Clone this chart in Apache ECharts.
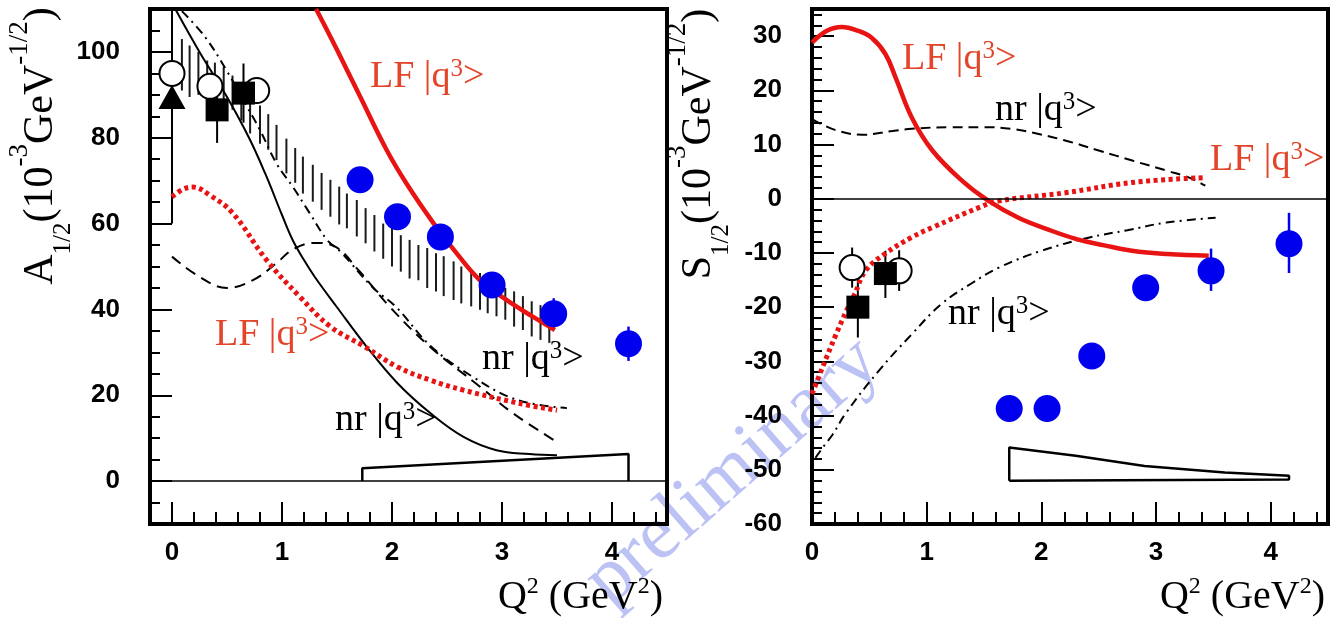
<!DOCTYPE html>
<html>
<head>
<meta charset="utf-8">
<script src="https://cdn.jsdelivr.net/npm/echarts@6/dist/echarts.min.js"></script>
<style>
  html, body { margin: 0; padding: 0; background: #fff; }
  #main { width: 1331px; height: 618px; }
</style>
</head>
<body>
<div id="main"></div>
<script>
// ---------- left panel: A1/2 ----------
var leftHatch = [
  [0.09, 91, 103], [0.16, 89.5, 101.5], [0.24, 90, 100], [0.32, 88.7, 98], [0.39, 88.5, 97.5],
  [0.47, 88.5, 96.5], [0.55, 86.5, 94.5], [0.63, 84, 93], [0.71, 81, 90.5], [0.8, 78.6, 87.5],
  [0.875, 77.2, 85.5], [0.95, 74.8, 83], [1.04, 71.7, 79.8], [1.12, 69.5, 77.6], [1.19, 67, 75.6],
  [1.28, 65.1, 73.7], [1.36, 63.2, 71.8], [1.44, 61.6, 70.2], [1.52, 59.8, 68.6], [1.59, 58.9, 67],
  [1.68, 57, 65.5], [1.76, 55.4, 63.6], [1.84, 53.5, 62], [1.92, 51.8, 60], [2.0, 50, 59],
  [2.08, 48.8, 57.3], [2.16, 47.2, 56.2], [2.24, 46.8, 55], [2.32, 45, 54.3], [2.4, 44.2, 53.1],
  [2.47, 43.1, 52.4], [2.56, 42.2, 51.2], [2.63, 41.4, 50], [2.72, 40.7, 48.9], [2.8, 39.9, 48.5],
  [2.87, 39.1, 47.4], [2.95, 38.4, 46], [3.03, 37.6, 45], [3.11, 36, 44.2], [3.19, 35.2, 43.1],
  [3.27, 33.7, 41.9], [3.35, 32.9, 41], [3.43, 32.2, 40]
];
var leftNrSolid = [[0.03, 110], [0.25, 100], [0.5, 89.5], [0.7, 80], [0.85, 71.5], [1.0, 62], [1.1, 56],
  [1.2, 51.5], [1.3, 47.5], [1.5, 40.5], [1.77, 31.3], [2.05, 22.8], [2.35, 15.8], [2.65, 10.3], [2.95, 7.2], [3.25, 6.3], [3.5, 6]];
var leftNrDashDot = [[0.09, 109.5], [0.3, 103.5], [0.5, 95.5], [0.68, 87.3], [0.8, 81.8], [0.95, 74], [1.1, 68.5],
  [1.25, 62.5], [1.41, 56.2], [1.53, 53.5], [1.83, 45], [2.04, 40.5], [2.35, 31.5], [2.74, 24.2], [3.14, 18.9], [3.59, 17]];
var leftNrDash = [[0, 52.3], [0.25, 47.6], [0.5, 45], [0.74, 46.9], [0.95, 50.8], [1.1, 54], [1.3, 55.5], [1.47, 54.8],
  [1.7, 49], [1.98, 40.6], [2.35, 31.2], [2.8, 22], [3.1, 15.8], [3.5, 9.1]];
var leftLFSolid = [[1.31, 110], [1.5, 100.5], [1.71, 89.6], [1.95, 77.2], [2.13, 69.4], [2.38, 60], [2.59, 53],
  [2.8, 46.8], [3.04, 42.2], [3.28, 38.3], [3.48, 35.2]];
var leftLFDotted = [[0, 66.2], [0.1, 68], [0.19, 68.5], [0.35, 66.5], [0.55, 62.5], [0.86, 51.5], [1.16, 43], [1.44, 36],
  [1.74, 31.5], [2.05, 26.6], [2.35, 23.5], [2.65, 21.2], [3.14, 18.2], [3.5, 16.5]];
var leftOpen = [[0, 95], [0.345, 92], [0.77, 91]];
var leftTri = [[0, 89.5]];
var leftTriErr = [[0, 60, 119]];
var leftSquare = [[0.41, 86.5], [0.65, 90.4]];
var leftSquareErr = [[0.41, 78.8, 94.2], [0.65, 83.5, 97.3]];
var leftBlue = [[1.71, 70.2], [2.05, 61.6], [2.44, 56.9], [2.91, 45.7], [3.47, 39], [4.15, 32]];
var leftBlueErr = [[3.47, 35.4, 42.6], [4.15, 28, 36]];
var leftSys = [[1.73, 0], [1.73, 3], [4.15, 6.3], [4.15, 0]];

// ---------- right panel: S1/2 ----------
var rightLFSolid = [[0, 28.8], [0.13, 31], [0.26, 31.7], [0.4, 31], [0.52, 29.7], [0.64, 26.7], [0.73, 22.3], [0.87, 15],
  [1.05, 8.9], [1.31, 3.3], [1.54, -0.4], [1.8, -3.5], [2.05, -5.6], [2.3, -7.4], [2.55, -8.6], [2.79, -9.6], [3.1, -10.2], [3.46, -10.5]];
var rightLFDotted = [[0, -36], [0.09, -31.2], [0.21, -25], [0.3, -20.7], [0.37, -17.7], [0.47, -13.2], [0.64, -10.1],
  [0.87, -7.1], [1.05, -5.3], [1.46, -1.6], [1.63, -0.4], [2.21, 1.1], [2.79, 3], [3.43, 3.9]];
var rightNrDash = [[0, 14.7], [0.2, 12.7], [0.44, 11.8], [0.7, 12.5], [0.87, 12.9], [1.2, 13.2], [1.5, 13.2], [1.74, 12.9],
  [1.92, 12.2], [2.2, 10.8], [2.5, 8.9], [2.8, 7], [3.09, 5.2], [3.3, 3.8], [3.43, 2.4]];
var rightNrDashDot = [[0.03, -47.8], [0.09, -46], [0.18, -43.5], [0.29, -39.7], [0.58, -31.8], [0.87, -25], [1.13, -19.4],
  [1.4, -15.5], [1.63, -12.7], [2.0, -9.6], [2.41, -7.2], [2.75, -5.8], [3.09, -4.4], [3.52, -3.5]];
var rightOpen = [[0.35, -12.7], [0.76, -13.3]];
var rightOpenErr = [[0.35, -16.4, -9], [0.76, -17, -9.5]];
var rightSquare = [[0.4, -20], [0.64, -13.8]];
var rightSquareErr = [[0.4, -25.6, -14.5], [0.64, -18.3, -9.6]];
var rightBlue = [[1.72, -38.7], [2.05, -38.7], [2.44, -29], [2.91, -16.4], [3.48, -13.3], [4.16, -8.3]];
var rightBlueErr = [[3.48, -17, -9.2], [4.16, -13.7, -2.6]];
var rightSys = [[1.72, -52], [1.72, -45.9], [2.3, -47.4], [2.9, -49.3], [3.6, -50.5], [4.16, -51.1], [4.16, -51.8], [1.72, -52]];

// ---------- ticks ----------
var xMajor = [0, 1, 2, 3, 4];
var xMinor = [0.2, 0.4, 0.6, 0.8, 1.2, 1.4, 1.6, 1.8, 2.2, 2.4, 2.6, 2.8, 3.2, 3.4, 3.6, 3.8, 4.2, 4.4];
var leftYMajor = [0, 20, 40, 60, 80, 100];
var leftYMinor = [-5, 5, 10, 15, 25, 30, 35, 45, 50, 55, 65, 70, 75, 85, 90, 95, 105];
var rightYMajor = [-60, -50, -40, -30, -20, -10, 0, 10, 20, 30];
var rightYMinor = [-58, -56, -54, -52, -48, -46, -44, -42, -38, -36, -34, -32, -28, -26, -24, -22, -18, -16, -14, -12,
  -8, -6, -4, -2, 2, 4, 6, 8, 12, 14, 16, 18, 22, 24, 26, 28, 32, 34];

var RED = '#e81414';
var LABEL_RED = '#e2452a';
var BLUE = '#0000ee';
var SERIF = '"Liberation Serif", "Times New Roman", serif';
var SANS = '"Liberation Sans", Arial, sans-serif';

var chart = echarts.init(document.getElementById('main'));

function majorAxis(grid, min, max, ticks, pos) {
  return {
    type: 'value', gridIndex: grid, min: min, max: max, position: pos,
    axisLine: { show: true, onZero: false, lineStyle: { color: '#000', width: 4 } },
    axisTick: { show: true, inside: true, length: 22, customValues: ticks, lineStyle: { color: '#000', width: 2 } },
    axisLabel: { customValues: ticks, margin: pos === 'left' ? 30 : 16, color: '#000',
      fontSize: 26, fontWeight: 'bold', fontFamily: SANS },
    splitLine: { show: false }
  };
}
function minorAxis(grid, min, max, ticks, pos, len) {
  return {
    type: 'value', gridIndex: grid, min: min, max: max, position: pos,
    axisLine: { show: false, onZero: false },
    axisTick: { show: true, inside: true, length: len, customValues: ticks, lineStyle: { color: '#000', width: 2 } },
    axisLabel: { show: false },
    splitLine: { show: false }
  };
}

function vSeg(color, width) {
  return function (params, api) {
    var a = api.coord([api.value(0), api.value(1)]);
    var b = api.coord([api.value(0), api.value(2)]);
    return { type: 'line', shape: { x1: a[0], y1: a[1], x2: b[0], y2: b[1] },
      style: { stroke: color, lineWidth: width } };
  };
}
function segs(ax, data, color, width, z) {
  return { type: 'custom', xAxisIndex: ax, yAxisIndex: ax, data: data, clip: true, z: z || 3,
    encode: { x: 0, y: [1, 2] }, renderItem: vSeg(color, width), silent: true };
}
function curve(ax, data, color, width, dash) {
  return { type: 'line', xAxisIndex: ax, yAxisIndex: ax, data: data, smooth: 0.4, symbol: 'none',
    lineStyle: { color: color, width: width, type: dash || 'solid' }, z: 3, silent: true };
}
function marks(ax, data, symbol, size, style) {
  return { type: 'scatter', xAxisIndex: ax, yAxisIndex: ax, data: data, symbol: symbol, symbolSize: size,
    itemStyle: Object.assign({ opacity: 1 }, style), z: 6, silent: true };
}
function sysBand(ax, data) {
  return { type: 'line', xAxisIndex: ax, yAxisIndex: ax, data: data, symbol: 'none',
    lineStyle: { color: '#000', width: 2.5 }, z: 4, silent: true,
    markLine: { silent: true, symbol: ['none', 'none'], label: { show: false },
      lineStyle: { color: '#000', width: 1.5, type: 'solid' }, data: [{ yAxis: 0 }] } };
}

var openStyle = { color: '#fff', borderColor: '#000', borderWidth: 2 };
var blackStyle = { color: '#000' };
var blueStyle = { color: BLUE };

var labelRich = {
  m: { fontSize: 38, fontFamily: SERIF, lineHeight: 40 },
  s: { fontSize: 25, fontFamily: SERIF, lineHeight: 33, verticalAlign: 'top' }
};
function q3Label(x, y, color, word) {
  var rich = {
    m: Object.assign({ fill: color }, labelRich.m),
    s: Object.assign({ fill: color }, labelRich.s)
  };
  return { type: 'text', x: x, y: y, z: 10,
    style: { text: '{m|' + word + ' |q}{s|3}{m|>}', rich: rich, align: 'left', verticalAlign: 'middle' } };
}
var titleRich = {
  m: { fontSize: 42, fontFamily: SERIF, fill: '#000', lineHeight: 70 },
  b: { fontSize: 25, fontFamily: SERIF, fill: '#000', lineHeight: 54, verticalAlign: 'bottom' },
  p: { fontSize: 27, fontFamily: SERIF, fill: '#000', lineHeight: 25, verticalAlign: 'top' }
};
function yTitle(x, y, letter) {
  return { type: 'text', x: x, y: y, rotation: Math.PI / 2, z: 10,
    style: { text: '{m|' + letter + '}{b|1/2}{m|(10}{p|-3}{m|GeV}{p|-1/2}{m|)}', rich: titleRich,
      align: 'center', verticalAlign: 'middle' } };
}
var xRich = {
  m: { fontSize: 40, fontFamily: SERIF, fill: '#000', lineHeight: 44 },
  p: { fontSize: 24, fontFamily: SERIF, fill: '#000', lineHeight: 34, verticalAlign: 'top' }
};
function xTitle(x, y) {
  return { type: 'text', x: x, y: y, z: 10,
    style: { text: '{m|Q}{p|2}{m| (GeV}{p|2}{m|)}', rich: xRich, align: 'right', verticalAlign: 'middle' } };
}

var option = {
  backgroundColor: '#fff',
  animation: false,
  grid: [
    { left: 150, top: 9, width: 517, height: 515, show: true, borderColor: '#000', borderWidth: 4 },
    { left: 812, top: 9, width: 516, height: 515, show: true, borderColor: '#000', borderWidth: 4 }
  ],
  xAxis: [
    majorAxis(0, -0.2, 4.5, xMajor, 'bottom'),
    minorAxis(0, -0.2, 4.5, xMinor, 'bottom', 12),
    majorAxis(1, 0, 4.5, xMajor, 'bottom'),
    minorAxis(1, 0, 4.5, xMinor, 'bottom', 12)
  ],
  yAxis: [
    majorAxis(0, -10, 110, leftYMajor, 'left'),
    minorAxis(0, -10, 110, leftYMinor, 'left', 10),
    majorAxis(1, -60, 35, rightYMajor, 'left'),
    minorAxis(1, -60, 35, rightYMinor, 'left', 10)
  ],
  graphic: [
    { type: 'text', x: 733, y: 472, rotation: 0.72, z: -1,
      style: { text: 'preliminary', font: '78px ' + SERIF, fill: '#bcc2f4', align: 'center', verticalAlign: 'middle' } },
    yTitle(41, 146, 'A'),
    yTitle(699, 144, 'S'),
    xTitle(663, 597),
    xTitle(1325, 597),
    q3Label(370, 77, LABEL_RED, 'LF'),
    q3Label(215, 335, LABEL_RED, 'LF'),
    q3Label(482, 359, '#000', 'nr'),
    q3Label(335, 420, '#000', 'nr'),
    q3Label(902, 59, LABEL_RED, 'LF'),
    q3Label(995, 110, '#000', 'nr'),
    q3Label(1210, 160, LABEL_RED, 'LF'),
    q3Label(948, 314, '#000', 'nr')
  ],
  series: [
    // left
    segs(0, leftHatch, '#1a1a1a', 2, 2),
    curve(0, leftNrSolid, '#000', 2),
    curve(0, leftNrDashDot, '#000', 2, [9, 5, 2, 5]),
    curve(0, leftNrDash, '#000', 2, [11, 7]),
    curve(0, leftLFSolid, RED, 4.5),
    curve(0, leftLFDotted, RED, 5, [4, 3.5]),
    sysBand(0, leftSys),
    segs(0, leftTriErr, '#000', 2),
    segs(0, leftSquareErr, '#000', 2),
    segs(0, leftBlueErr, BLUE, 2.5),
    marks(0, leftOpen, 'circle', 25, openStyle),
    marks(0, leftTri, 'triangle', [27, 24], blackStyle),
    marks(0, leftSquare, 'rect', 23, blackStyle),
    marks(0, leftBlue, 'circle', 27, blueStyle),
    // right
    curve(2, rightNrDash, '#000', 2, [10, 6]),
    curve(2, rightNrDashDot, '#000', 2, [9, 5, 2, 5]),
    curve(2, rightLFSolid, RED, 4.5),
    curve(2, rightLFDotted, RED, 5, [4, 3.5]),
    sysBand(2, rightSys),
    segs(2, rightOpenErr, '#000', 2),
    segs(2, rightSquareErr, '#000', 2),
    segs(2, rightBlueErr, BLUE, 2.5),
    marks(2, rightOpen, 'circle', 25, openStyle),
    marks(2, rightSquare, 'rect', 23, blackStyle),
    marks(2, rightBlue, 'circle', 27, blueStyle)
  ]
};
chart.setOption(option);
</script>
</body>
</html>
